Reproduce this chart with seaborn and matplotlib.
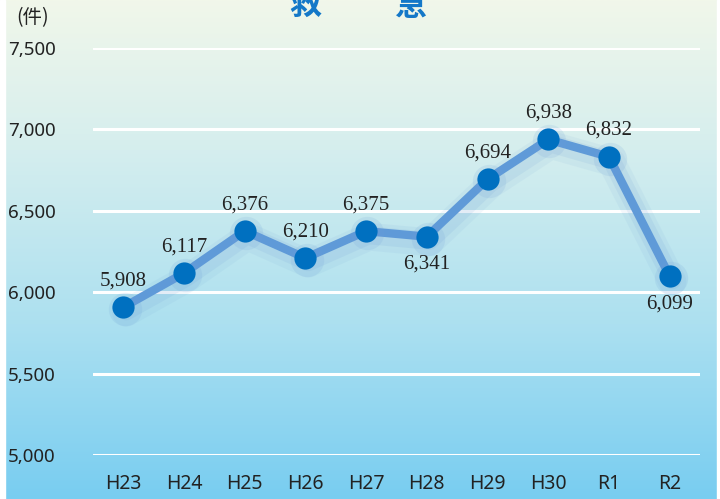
import numpy as np
import pandas as pd
import matplotlib
matplotlib.use("Agg")
import matplotlib.pyplot as plt
import matplotlib.patheffects as pe
from matplotlib.colors import LinearSegmentedColormap
import seaborn as sns

# ===================== DATA =====================
years = ["H23", "H24", "H25", "H26", "H27", "H28", "H29", "H30", "R1", "R2"]
cases = [5908, 6117, 6376, 6210, 6375, 6341, 6694, 6938, 6832, 6099]
label_below = [False, False, False, False, False, True, False, False, False, True]
y_ticks = [5000, 5500, 6000, 6500, 7000, 7500]

df = pd.DataFrame({"idx": range(len(years)), "year": years, "cases": cases})

# ===================== STYLE =====================
sns.set_style("white")
plt.rcParams["font.family"] = ["Noto Sans", "Noto Sans CJK JP", "DejaVu Sans"]

fig = plt.figure(figsize=(7.2, 4.99), dpi=100)

# gradient background
bg = fig.add_axes([0, 0, 1, 1], zorder=-2)
cmap = LinearSegmentedColormap.from_list(
    "bg", [(0.0, "#f1f7ea"), (0.3, "#d5eeee"), (0.65, "#ace0f0"), (1.0, "#78cdf1")])
bg.imshow(np.linspace(0, 1, 256).reshape(-1, 1), aspect="auto", cmap=cmap,
          extent=[0, 1, 0, 1], origin="upper")
bg.axvspan(0, 5 / 720, color="white")
bg.axvspan(1 - 3 / 720, 1, color="white")
bg.set_xlim(0, 1)
bg.set_ylim(0, 1)
bg.axis("off")

ax = fig.add_axes([93 / 720, 1 - 455 / 499, (700 - 93) / 720, (455 - 48) / 499])
ax.set_facecolor("none")

# ===================== PLOT =====================
shadow = [
    pe.SimpleLineShadow(offset=(2, -4), shadow_color="#5d8fd0", alpha=0.07, linewidth=20),
    pe.SimpleLineShadow(offset=(2, -3), shadow_color="#5d8fd0", alpha=0.10, linewidth=13),
    pe.Normal(),
]
sns.lineplot(data=df, x="idx", y="cases", ax=ax, sort=False, color="#5f9ad8",
             linewidth=6, zorder=3, path_effects=shadow)
ax.plot(df["idx"] + 0.02, df["cases"] - 12, linestyle="none", marker="o", markersize=24,
        color="#6f9fd8", alpha=0.15, markeredgewidth=0, zorder=3.5)
ax.plot(df["idx"], df["cases"], linestyle="none", marker="o", markersize=16,
        color="#0070c0", markeredgewidth=0, zorder=4)

for i, (v, below) in enumerate(zip(cases, label_below)):
    off = -20 if below else 19
    ax.annotate(f"{v:,}", (i, v), xytext=(0, off), textcoords="offset points",
                ha="center", va="center", fontsize=15, color="#222222",
                family=["Liberation Serif", "DejaVu Serif"], zorder=5)

# ===================== AXES =====================
ax.set_xlim(-0.5, 9.5)
ax.set_ylim(5000, 7500)
ax.set_yticks(y_ticks)
ax.set_yticklabels([f"{t:,}" for t in y_ticks])
ax.set_xticks(df["idx"])
ax.set_xticklabels(years)
ax.set_xticks(np.arange(-0.5, 9.0, 1.0), minor=True)
ax.tick_params(axis="x", which="major", length=0, pad=14, labelsize=14, labelcolor="#222222")
ax.tick_params(axis="x", which="minor", length=8, width=1.5, color="white", direction="out")
ax.tick_params(axis="y", length=0, pad=27, labelsize=13.5, labelcolor="#222222")
for s in ax.spines.values():
    s.set_visible(False)
ax.yaxis.grid(True, color="white", linewidth=2.2, zorder=1)
ax.set_axisbelow(True)
ax.set_xlabel("")
ax.set_ylabel("")

# ===================== TEXT =====================
fig.text(33 / 720, 1 - 18 / 499, "(件)", ha="center", va="center", fontsize=14,
         color="#222222", family=["Noto Sans CJK JP", "DejaVu Sans"])
for ch, xpix in [("救", 305), ("急", 410)]:
    fig.text(xpix / 720, 1 - 6 / 499, ch, ha="center", va="center", fontsize=23,
             fontweight="bold", color="#1478c8", family=["Noto Sans CJK JP", "DejaVu Sans"])

fig.savefig("out.png", dpi=100)
